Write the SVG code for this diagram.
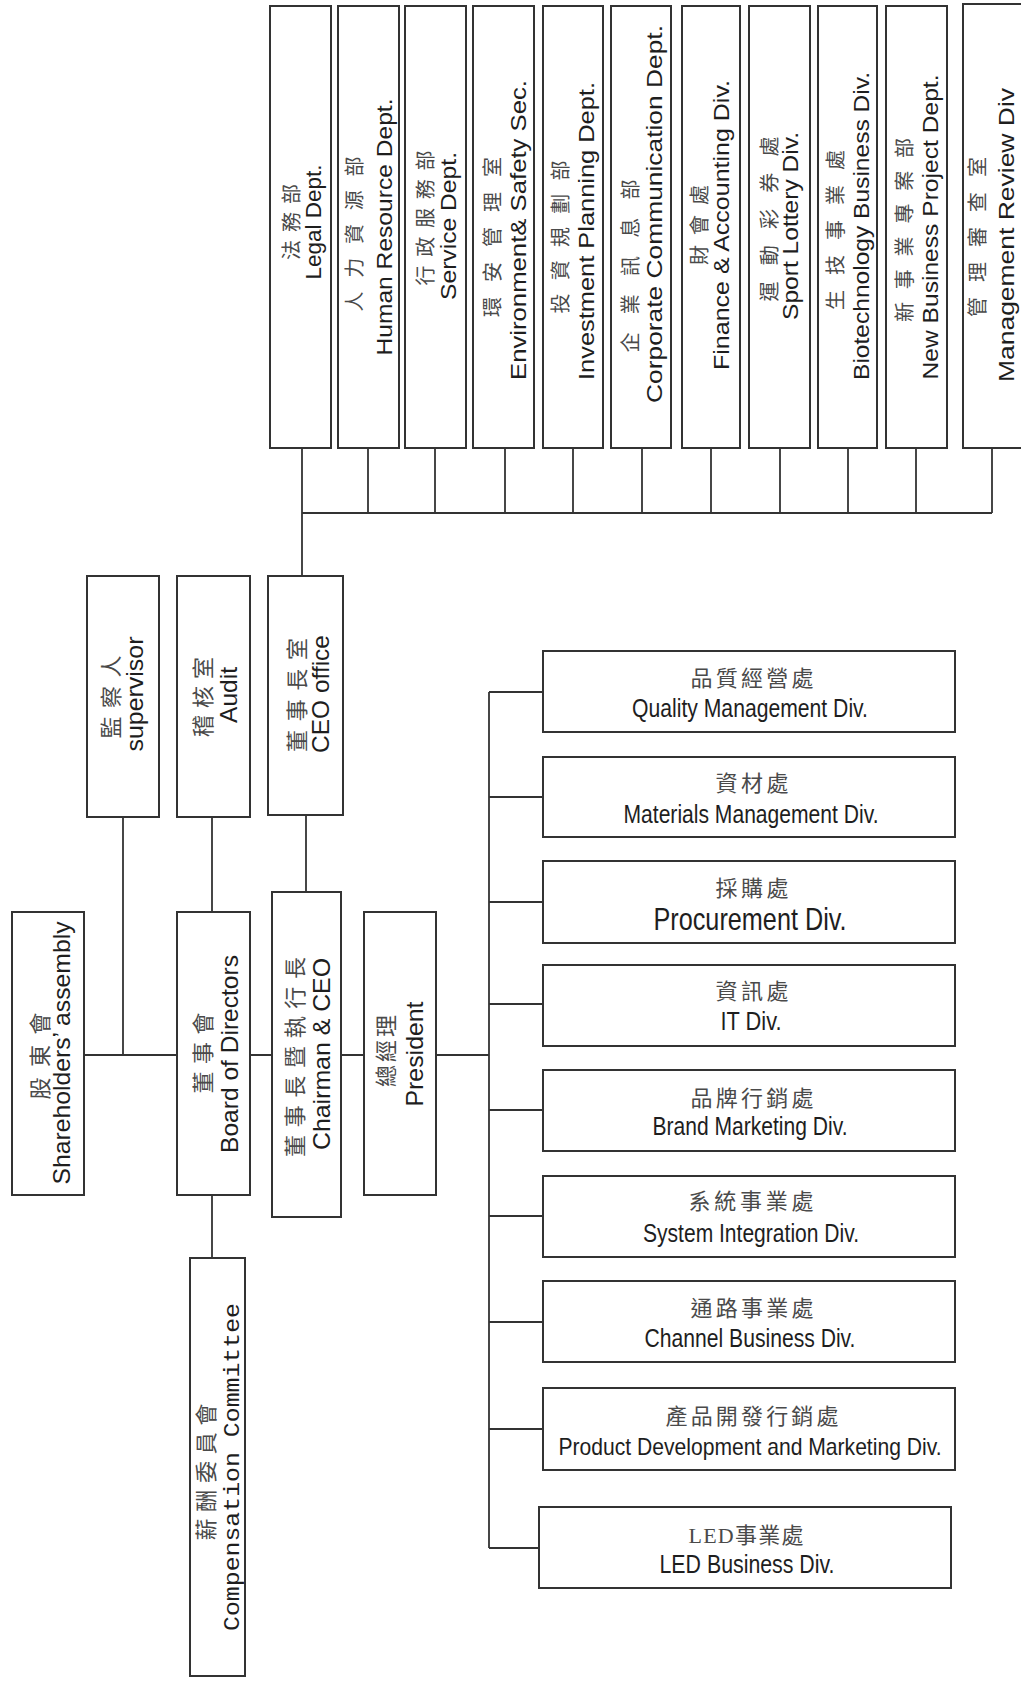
<svg xmlns="http://www.w3.org/2000/svg" width="1021" height="1681" viewBox="0 0 1021 1681">
<style>
.box{fill:#fff;stroke:#333;stroke-width:2}
.ln{stroke:#333;stroke-width:1.8;fill:none}
.en{font-family:"Liberation Sans",Arial,sans-serif;fill:#1e1e1e;text-anchor:middle}
.zh{font-family:"Noto Sans CJK TC","Noto Sans CJK SC",sans-serif;fill:#4a4a4a;text-anchor:middle}
.mono{font-family:"Liberation Mono","Courier New",monospace;fill:#1e1e1e;text-anchor:middle}
.t22{font-size:22px}.t20{font-size:20px}.t24{font-size:24px}.t26{font-size:26px}.t32{font-size:32px}
</style>
<rect width="1021" height="1681" fill="#fff"/>
<g id="connectors">
<path class="ln" d="M302 448V576M302 513H992M368 448V513M435 448V513M505 448V513M573 448V513M642 448V513M711 448V513M780 448V513M848 448V513M916 448V513M992 448V513"/>
<path class="ln" d="M84 1055H177M123 817V1055M212 817V912M306 815V892M250 1055H272M341 1055H364M436 1055H489M212 1195V1258"/>
<path class="ln" d="M489 692V1548M489 692H543M489 797H543M489 902H543M489 1004H543M489 1110H543M489 1216H543M489 1322H543M489 1429H543M489 1548H539"/>
</g>
<g id="legal"><rect class="box" x="270" y="6" width="61" height="442"/>
<text class="zh t20" transform="translate(299,222) rotate(-90)" textLength="76" lengthAdjust="spacing">法務部</text>
<text class="en t22" transform="translate(321,222) rotate(-90)" textLength="115" lengthAdjust="spacingAndGlyphs">Legal Dept.</text></g>
<g id="hr"><rect class="box" x="338" y="6" width="61" height="442"/>
<text class="zh t20" transform="translate(362,234) rotate(-90)" textLength="155" lengthAdjust="spacing">人力資源部</text>
<text class="en t22" transform="translate(392,227) rotate(-90)" textLength="257" lengthAdjust="spacingAndGlyphs">Human Resource Dept.</text></g>
<g id="service"><rect class="box" x="405" y="6" width="61" height="442"/>
<text class="zh t20" transform="translate(433,218) rotate(-90)" textLength="135" lengthAdjust="spacing">行政服務部</text>
<text class="en t22" transform="translate(456,226) rotate(-90)" textLength="148" lengthAdjust="spacingAndGlyphs">Service Dept.</text></g>
<g id="env"><rect class="box" x="473" y="6" width="61" height="442"/>
<text class="zh t20" transform="translate(500,237) rotate(-90)" textLength="160" lengthAdjust="spacing">環安管理室</text>
<text class="en t22" transform="translate(526,230) rotate(-90)" textLength="300" lengthAdjust="spacingAndGlyphs">Environment&amp; Safety Sec.</text></g>
<g id="invest"><rect class="box" x="543" y="6" width="60" height="442"/>
<text class="zh t20" transform="translate(568,237) rotate(-90)" textLength="153" lengthAdjust="spacing">投資規劃部</text>
<text class="en t22" transform="translate(594,231) rotate(-90)" textLength="298" lengthAdjust="spacingAndGlyphs">Investment Planning Dept.</text></g>
<g id="corpcomm"><rect class="box" x="611" y="6" width="60" height="442"/>
<text class="zh t20" transform="translate(638,266) rotate(-90)" textLength="173" lengthAdjust="spacing">企業訊息部</text>
<text class="en t22" transform="translate(662,214) rotate(-90)" textLength="378" lengthAdjust="spacingAndGlyphs">Corporate Communication Dept.</text></g>
<g id="finance"><rect class="box" x="682" y="6" width="58" height="442"/>
<text class="zh t20" transform="translate(707,225) rotate(-90)" textLength="80" lengthAdjust="spacing">財會處</text>
<text class="en t22" transform="translate(729,225) rotate(-90)" textLength="290" lengthAdjust="spacingAndGlyphs">Finance &amp; Accounting Div.</text></g>
<g id="lottery"><rect class="box" x="749" y="6" width="61" height="442"/>
<text class="zh t20" transform="translate(777,219) rotate(-90)" textLength="165" lengthAdjust="spacing">運動彩券處</text>
<text class="en t22" transform="translate(798,226) rotate(-90)" textLength="188" lengthAdjust="spacingAndGlyphs">Sport Lottery Div.</text></g>
<g id="biotech"><rect class="box" x="818" y="6" width="59" height="442"/>
<text class="zh t20" transform="translate(843,230) rotate(-90)" textLength="160" lengthAdjust="spacing">生技事業處</text>
<text class="en t22" transform="translate(869,226) rotate(-90)" textLength="308" lengthAdjust="spacingAndGlyphs">Biotechnology Business Div.</text></g>
<g id="newbiz"><rect class="box" x="886" y="6" width="61" height="442"/>
<text class="zh t20" transform="translate(912,230) rotate(-90)" textLength="184" lengthAdjust="spacing">新事業專案部</text>
<text class="en t22" transform="translate(938,227) rotate(-90)" textLength="305" lengthAdjust="spacingAndGlyphs">New Business Project Dept.</text></g>
<g id="mgmtreview"><rect class="box" x="963" y="4" width="70" height="444"/>
<text class="zh t20" transform="translate(985,237) rotate(-90)" textLength="160" lengthAdjust="spacing">管理審查室</text>
<text class="en t22" transform="translate(1014,235) rotate(-90)" textLength="294" lengthAdjust="spacingAndGlyphs">Management Review Div</text></g>
<g id="supervisor"><rect class="box" x="87" y="576" width="72" height="241"/>
<text class="zh t22" transform="translate(119,697) rotate(-90)" textLength="83" lengthAdjust="spacing">監察人</text>
<text class="en t24" transform="translate(143,694) rotate(-90)" textLength="115" lengthAdjust="spacingAndGlyphs">supervisor</text></g>
<g id="audit"><rect class="box" x="177" y="576" width="73" height="241"/>
<text class="zh t22" transform="translate(211,697) rotate(-90)" textLength="80" lengthAdjust="spacing">稽核室</text>
<text class="en t24" transform="translate(237,695) rotate(-90)" textLength="56" lengthAdjust="spacingAndGlyphs">Audit</text></g>
<g id="ceooffice"><rect class="box" x="268" y="576" width="75" height="239"/>
<text class="zh t22" transform="translate(305,695) rotate(-90)" textLength="114" lengthAdjust="spacing">董事長室</text>
<text class="en t24" transform="translate(329,694) rotate(-90)" textLength="118" lengthAdjust="spacingAndGlyphs">CEO office</text></g>
<g id="shareholders"><rect class="box" x="12" y="912" width="72" height="283"/>
<text class="zh t22" transform="translate(48,1056) rotate(-90)" textLength="87" lengthAdjust="spacing">股東會</text>
<text class="en t24" transform="translate(70,1053) rotate(-90)" textLength="263" lengthAdjust="spacingAndGlyphs">Shareholders’ assembly</text></g>
<g id="board"><rect class="box" x="177" y="912" width="73" height="283"/>
<text class="zh t22" transform="translate(211,1053) rotate(-90)" textLength="81" lengthAdjust="spacing">董事會</text>
<text class="en t24" transform="translate(238,1054) rotate(-90)" textLength="198" lengthAdjust="spacingAndGlyphs">Board of Directors</text></g>
<g id="chairman"><rect class="box" x="272" y="892" width="69" height="325"/>
<text class="zh t22" transform="translate(303,1057) rotate(-90)" textLength="200" lengthAdjust="spacing">董事長暨執行長</text>
<text class="en t24" transform="translate(330,1054) rotate(-90)" textLength="192" lengthAdjust="spacingAndGlyphs">Chairman &amp; CEO</text></g>
<g id="president"><rect class="box" x="364" y="912" width="72" height="283"/>
<text class="zh t22" transform="translate(394,1051) rotate(-90)" textLength="72" lengthAdjust="spacing">總經理</text>
<text class="en t24" transform="translate(423,1054) rotate(-90)" textLength="105" lengthAdjust="spacingAndGlyphs">President</text></g>
<g id="compensation"><rect class="box" x="190" y="1258" width="55" height="418"/>
<text class="zh t22" transform="translate(214,1472) rotate(-90)" textLength="137" lengthAdjust="spacing">薪酬委員會</text>
<text class="mono t22" transform="translate(239,1467) rotate(-90)" textLength="328" lengthAdjust="spacingAndGlyphs">Compensation Committee</text></g>
<g id="quality"><rect class="box" x="543" y="651" width="412" height="81"/>
<text class="zh t22" x="752" y="686" textLength="123" lengthAdjust="spacing">品質經營處</text>
<text class="en t26" x="750" y="717" textLength="236" lengthAdjust="spacingAndGlyphs">Quality Management Div.</text></g>
<g id="materials"><rect class="box" x="543" y="757" width="412" height="80"/>
<text class="zh t22" x="752" y="791" textLength="73" lengthAdjust="spacing">資材處</text>
<text class="en t26" x="751" y="823" textLength="255" lengthAdjust="spacingAndGlyphs">Materials Management Div.</text></g>
<g id="procurement"><rect class="box" x="543" y="861" width="412" height="82"/>
<text class="zh t22" x="752" y="896" textLength="73" lengthAdjust="spacing">採購處</text>
<text class="en t32" x="750" y="930" textLength="193" lengthAdjust="spacingAndGlyphs">Procurement Div.</text></g>
<g id="it"><rect class="box" x="543" y="965" width="412" height="81"/>
<text class="zh t22" x="752" y="999" textLength="73" lengthAdjust="spacing">資訊處</text>
<text class="en t26" x="751" y="1030" textLength="61" lengthAdjust="spacingAndGlyphs">IT Div.</text></g>
<g id="brand"><rect class="box" x="543" y="1070" width="412" height="81"/>
<text class="zh t22" x="752" y="1106" textLength="123" lengthAdjust="spacing">品牌行銷處</text>
<text class="en t26" x="750" y="1135" textLength="195" lengthAdjust="spacingAndGlyphs">Brand Marketing Div.</text></g>
<g id="system"><rect class="box" x="543" y="1176" width="412" height="81"/>
<text class="zh t22" x="751" y="1209" textLength="125" lengthAdjust="spacing">系統事業處</text>
<text class="en t26" x="751" y="1242" textLength="216" lengthAdjust="spacingAndGlyphs">System Integration Div.</text></g>
<g id="channel"><rect class="box" x="543" y="1281" width="412" height="81"/>
<text class="zh t22" x="752" y="1316" textLength="123" lengthAdjust="spacing">通路事業處</text>
<text class="en t26" x="750" y="1347" textLength="211" lengthAdjust="spacingAndGlyphs">Channel Business Div.</text></g>
<g id="proddev"><rect class="box" x="543" y="1388" width="412" height="82"/>
<text class="zh t22" x="752" y="1424" textLength="173" lengthAdjust="spacing">產品開發行銷處</text>
<text class="en t24" x="750" y="1455" textLength="383" lengthAdjust="spacingAndGlyphs">Product Development and Marketing Div.</text></g>
<g id="led"><rect class="box" x="539" y="1507" width="412" height="81"/>
<text class="zh t22" x="746" y="1543" textLength="115" lengthAdjust="spacing" style="font-family:'Liberation Serif','Noto Sans CJK TC',serif">LED事業處</text>
<text class="en t26" x="747" y="1573" textLength="175" lengthAdjust="spacingAndGlyphs">LED Business Div.</text></g>
</svg>
